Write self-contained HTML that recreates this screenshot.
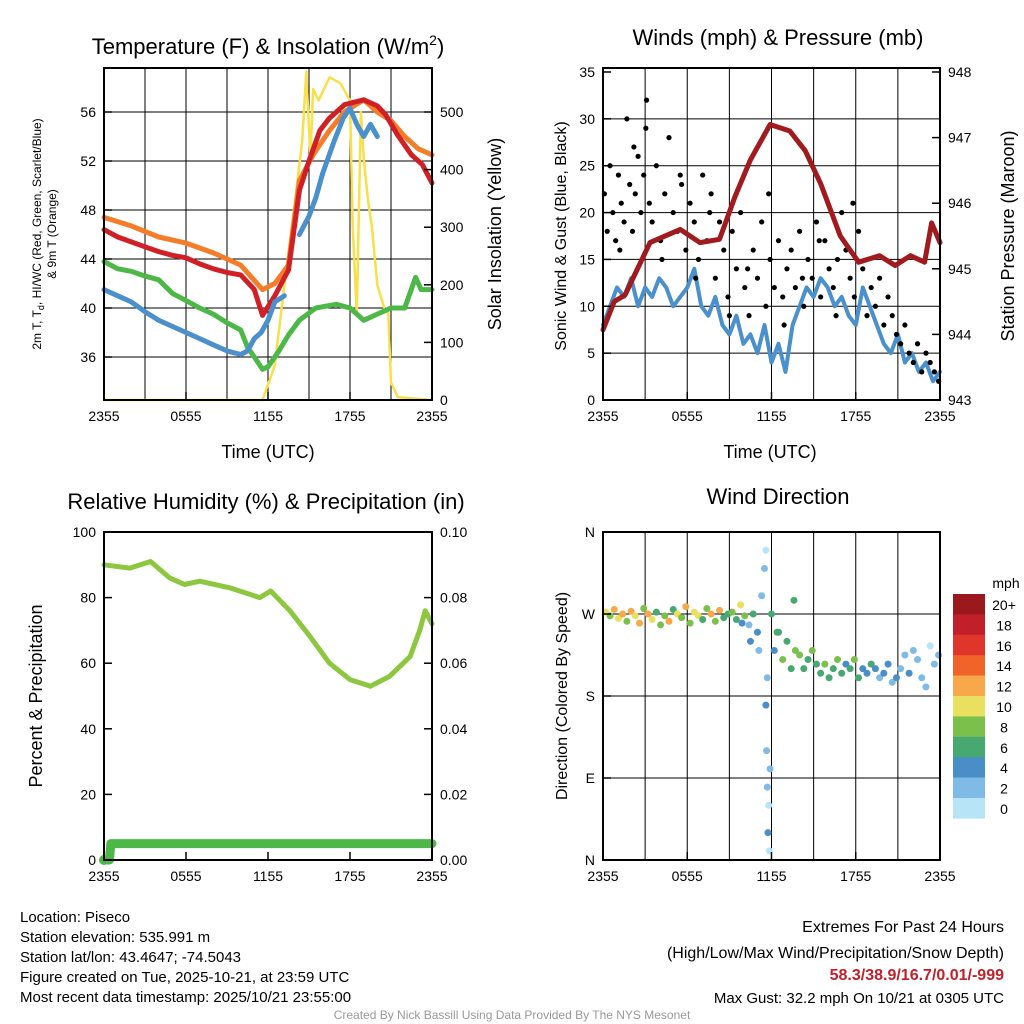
<!DOCTYPE html>
<html><head><meta charset="utf-8"><style>
html,body{margin:0;padding:0;background:#fff;}
svg{display:block;font-family:"Liberation Sans",sans-serif;}
</style></head><body>
<svg id="s" width="1024" height="1024" viewBox="0 0 1024 1024" xmlns="http://www.w3.org/2000/svg">
<rect width="1024" height="1024" fill="#fff"/>
<g id="g1"></g>
<g id="g2"></g>
<g id="g3"></g>
<g id="g4"></g>
<g font-size="15" fill="#000">
<text x="20" y="922">Location: Piseco</text>
<text x="20" y="942">Station elevation: 535.991 m</text>
<text x="20" y="962">Station lat/lon: 43.4647; -74.5043</text>
<text x="20" y="982">Figure created on Tue, 2025-10-21, at 23:59 UTC</text>
<text x="20" y="1002">Most recent data timestamp: 2025/10/21 23:55:00</text>
</g>
<g font-size="16" text-anchor="end">
<text x="1004" y="932">Extremes For Past 24 Hours</text>
<text x="1004" y="958">(High/Low/Max Wind/Precipitation/Snow Depth)</text>
<text x="1004" y="980" fill="#c0202a" font-weight="bold">58.3/38.9/16.7/0.01/-999</text>
<text x="1004" y="1003" font-size="15">Max Gust: 32.2 mph On 10/21 at 0305 UTC</text>
</g>
<text x="512" y="1019" text-anchor="middle" font-size="12" fill="#999">Created By Nick Bassill Using Data Provided By The NYS Mesonet</text>
</svg>
<script>
// ---------- data ----------
const xTickLabels = ["2355","0555","1155","1755","2355"];
const tRed = [0,1,2,3,4,5,6,7,8,9,10,11,11.6,12.5,13.5,14.3,15,15.8,16.5,17.6,19,20,20.6,21.5,22.5,23.3,24];
const vRed = [46.4,45.8,45.4,45,44.6,44.3,44.1,43.6,43.2,42.9,42.7,41.5,39.4,41,43.1,49.6,52,54.5,55.5,56.6,57,56.5,55.8,54.1,52.5,51.7,50.2];
const tOrange = [0,2,4,6,8,10,11.6,12.5,13.5,14.3,15.3,16.5,17.6,19,20,21,22,23,24];
const vOrange = [47.4,46.7,45.8,45.3,44.5,43.5,41.5,42,43.5,50.4,52.5,54.5,56,57,56,55.3,54,53,52.5];
const tGreen = [0,1,2,3,4,5,6,7,8,9,10,10.5,11,11.6,12,12.8,13.5,14.3,15.5,17,18,19,20,21,22,22.8,23.2,24];
const vGreen = [43.8,43.2,43,42.6,42.3,41.2,40.6,40,39.5,38.8,38.2,36.8,36,35,35.2,36.5,37.8,39,40,40.3,40,39,39.5,40,40,42.5,41.5,41.5];
const tBlueA = [0,1,2,3,4,5,6,7,8,9,10,10.5,11,11.5,12,12.5,13.2];
const vBlueA = [41.5,41,40.5,39.7,39,38.5,38,37.5,37,36.5,36.2,36.5,37.5,38,39,40.5,41];
const tBlueB = [14.3,15,15.5,16,16.8,17.5,18,18.5,19,19.5,20];
const vBlueB = [46,47.5,49,51,53.5,55.5,56.3,55,54,55,54];
const tSolar = [0,11.6,12.5,13.2,14,14.5,14.8,15.1,15.3,15.7,16.5,17.3,18,18.2,18.5,18.8,19,19.3,19.6,20,20.5,20.8,21,21.5,24];
const vSolar = [0,0,60,200,350,450,570,420,540,520,560,550,520,300,150,500,420,350,300,200,160,150,30,5,0];

const tPres = [0,0.8,1.57,3.35,5.5,6.9,8.3,9.4,10.5,11.9,13.3,14.4,15.5,16.9,18.2,19.7,20.8,21.9,22.9,23.4,24];
const vPres = [944.07,944.5,944.6,945.4,945.6,945.4,945.45,946.1,946.66,947.2,947.1,946.8,946.3,945.5,945.1,945.2,945.05,945.2,945.1,945.7,945.4];
const tWind = [0,0.5,1,1.5,2,2.5,3,3.5,4,4.5,5,5.5,6,6.5,7,7.5,8,8.5,9,9.5,10,10.5,11,11.5,12,12.5,13,13.5,14,14.5,15,15.5,16,16.5,17,17.5,18,18.5,19,19.5,20,20.5,21,21.5,22,22.5,23,23.5,24];
const vWind = [8,10,12,11,13,10,12,11,13,12,10,11,12,14,10,9,11,8,7,9,6,7,5,8,4,6,3,8,10,12,11,13,12,10,11,9,8,12,10,8,6,5,7,4,5,3,4,2,3];
const tGust = [0.1,0.3,0.5,0.7,0.9,1.1,1.3,1.5,1.7,1.9,2.1,2.3,2.5,2.7,2.9,3.1,3.3,3.5,3.8,4.1,4.4,4.7,5,5.3,5.6,5.9,6.2,6.5,6.8,7.1,7.4,7.7,8,8.3,8.6,8.9,9.2,9.5,9.8,10.1,10.4,10.7,11,11.3,11.6,11.9,12.2,12.5,12.8,13.1,13.4,13.7,14,14.3,14.6,14.9,15.2,15.5,15.8,16.1,16.4,16.7,17,17.3,17.6,17.9,18.2,18.5,18.8,19.1,19.4,19.7,20,20.3,20.6,20.9,21.2,21.5,21.8,22.1,22.4,22.7,23,23.3,23.6,23.9,1.2,2.2,3.05,4.2,5.5,6.6,7.6,9,10.3,11.8,12.9,14.2,15.4,16.6,17.8];
const vGust = [22,18,25,20,17,24,21,19,30,23,18,22,26,20,24,32,21,19,25,17,22,28,20,18,23,16,21,19,15,24,17,22,13,19,16,11,18,14,20,12,9,16,13,19,10,15,12,17,11,14,16,12,18,10,15,13,19,11,17,14,12,15,20,16,13,11,18,14,9,12,10,13,8,11,9,7,6,8,5,4,6,3,5,4,3,2,16,27,29,15,24,13,20,9,14,22,8,13,17,9,21];

const tRH = [0,1.9,3.4,4.8,5.9,7,9.2,11.4,12.2,13.6,15.1,16.5,18,19.5,20.9,22.4,23.1,23.5,24];
const vRH = [90,89,91,86,84,85,83,80,82,76,68,60,55,53,56,62,70,76,72];
const tPcp = [0,0.4,0.5,6,12,18,24];
const vPcp = [0,0,0.005,0.005,0.005,0.005,0.005];

const tDir = [0.2,0.5,0.8,1.1,1.4,1.7,2,2.3,2.6,2.9,3.2,3.5,3.8,4.1,4.4,4.7,5,5.3,5.6,5.9,6.2,6.5,6.8,7.1,7.4,7.7,8,8.3,8.6,8.9,9.2,9.5,9.8,10.1,10.4,10.7,11,11.3,11.5,11.6,11.65,11.7,11.75,11.8,11.85,11.9,11.7,11.6,12,12.2,12.5,12.8,13.1,13.4,13.7,14,14.3,14.6,14.9,15.2,15.5,15.8,16.1,16.4,16.7,17,17.3,17.6,17.9,18.2,18.5,18.8,19.1,19.4,19.7,20,20.3,20.6,20.9,21.2,21.5,21.8,22.1,22.4,22.7,23,23.3,23.6,23.9,10.5,11.1,9.9,12.4,13.6];
const vDir = [272,268,275,265,270,262,273,268,260,276,270,264,272,258,268,262,275,270,266,278,260,272,268,264,276,270,262,274,266,270,272,264,280,268,258,270,250,290,320,340,120,80,30,60,10,100,200,170,270,230,250,220,240,210,230,225,210,220,230,215,205,215,200,210,220,205,215,210,220,200,210,205,215,210,200,205,215,195,200,210,225,205,230,220,200,190,235,215,225,240,230,260,250,285];
const vSpd = [11,9,12,10,13,9,12,11,13,8,12,10,7,9,8,13,7,10,9,12,8,11,10,7,9,13,8,12,7,6,9,7,11,8,3,7,4,3,3,1,2,3,4,1,1,2,3,4,6,5,7,8,6,7,9,8,6,7,8,7,6,8,6,7,8,6,5,7,8,6,5,4,6,5,3,5,4,3,4,2,3,4,2,3,2,3,1,2,2,4,3,4,6,7];
const dirLabels = ["N","E","S","W","N"];
const cbLabels = ["20+","18","16","14","12","10","8","6","4","2","0"];
const cbColors = ["#9b181d","#c11f2a","#e0352b","#f06429","#f8a84a","#e8e05e","#7cc04c","#48a872","#4a8ec8","#7fbbe6","#b8e4f8"];

// ---------- helpers ----------
const NS="http://www.w3.org/2000/svg";
function mk(parent,tag,attrs,txt){const e=document.createElementNS(NS,tag);for(const k in attrs)e.setAttribute(k,attrs[k]);if(txt!==undefined)e.textContent=txt;parent.appendChild(e);return e;}
function lin(d0,d1,r0,r1){return v=>r0+(v-d0)/(d1-d0)*(r1-r0);}
function pathD(ts,vs,fx,fy){return ts.map((t,i)=>(i?"L":"M")+fx(t).toFixed(1)+","+fy(vs[i]).toFixed(1)).join("");}
function frame(g,x0,y0,x1,y1){
  const r=mk(g,"rect",{x:x0,y:y0,width:x1-x0,height:y1-y0,fill:"none",stroke:"#000","stroke-width":2});
  
  
}
function vgrid(g,x0,x1,y0,y1){for(let h=3;h<24;h+=3){const x=x0+h/24*(x1-x0);mk(g,"line",{x1:x,x2:x,y1:y0,y2:y1,stroke:"#000","stroke-width":1});}}
function xaxis(g,x0,x1,y1){
  const fx=lin(0,24,x0,x1);
  xTickLabels.forEach((l,i)=>{const x=fx(i*6);
    mk(g,"line",{x1:x,x2:x,y1:y1,y2:y1-8,stroke:"#000","stroke-width":1.5});
    const t=mk(g,"text",{x:x,y:y1+21,"text-anchor":"middle","font-size":14},l);
    
    
  });
}
function yticks(g,vals,fy,x,side,fmt){
  vals.forEach(v=>{const y=fy(v);
    mk(g,"line",{x1:x,x2:x+(side<0?8:-8),y1:y,y2:y,stroke:"#000","stroke-width":1.5});
    const t=mk(g,"text",{x:side<0?x-8:x+8,y:y+5,"text-anchor":side<0?"end":"start","font-size":14},fmt?fmt(v):v);
    
    
  });
}
function title(g,x,y,s,name){const t=mk(g,"text",{x:x,y:y,"text-anchor":"middle","font-size":22},s);return t;}
function vtitle(g,x,y,s,name,size){const t=mk(g,"text",{x:x,y:y,"text-anchor":"middle","font-size":size||18,transform:`rotate(-90 ${x} ${y})`},s);return t;}
function line(g,ts,vs,fx,fy,col,w,name){const p=mk(g,"path",{d:pathD(ts,vs,fx,fy),fill:"none",stroke:col,"stroke-width":w,"stroke-linejoin":"round","stroke-linecap":"round"});return p;}

// ---------- panel 1 ----------
(function(){
 const g=document.getElementById("g1");const X0=104,X1=432,Y0=68,Y1=400;
 const fx=lin(0,24,X0,X1), fy=lin(36,56,357,112), fs=lin(0,500,400,112);
 vgrid(g,X0,X1,Y0,Y1);
 [36,40,44,48,52,56].forEach(v=>mk(g,"line",{x1:X0,x2:X1,y1:fy(v),y2:fy(v),stroke:"#000","stroke-width":1}));
 line(g,tSolar,vSolar,fx,fs,"#f7e04a",2.5,"solar-insolation-line");
 line(g,tOrange,vOrange,fx,fy,"#f57d2a",5,"9m-temperature-line");
 line(g,tRed,vRed,fx,fy,"#d02026",5,"2m-temperature-line");
 line(g,tGreen,vGreen,fx,fy,"#4db848",5,"dewpoint-line");
 line(g,tBlueA,vBlueA,fx,fy,"#4a90cc",5,"heat-index-wind-chill-line");
 line(g,tBlueB,vBlueB,fx,fy,"#4a90cc",5,"heat-index-wind-chill-line-2");
 frame(g,X0,Y0,X1,Y1);
 yticks(g,[36,40,44,48,52,56],fy,X0,-1);
 yticks(g,[0,100,200,300,400,500],fs,X1,1);
 xaxis(g,X0,X1,Y1);
 const t=title(g,268,53,"","temperature-title");
 t.setAttribute('y','54');
 t.innerHTML='Temperature (F) &amp; Insolation (W/m<tspan dy="-9" font-size="14">2</tspan><tspan dy="9">)</tspan>';
 const tt=mk(g,"text",{x:268,y:458,"text-anchor":"middle","font-size":18},"Time (UTC)");
 
 const a=vtitle(g,41,234,"","left-axis-title",12);
 a.innerHTML='2m T, T<tspan font-size="9" dy="3">d</tspan><tspan dy="-3">, HI/WC (Red, Green, Scarlet/Blue)</tspan>';
 vtitle(g,56,234,"& 9m T (Orange)","left-axis-title-2",12);
 vtitle(g,501,234,"Solar Insolation (Yellow)","right-axis-title");
})();

// ---------- panel 2 ----------
(function(){
 const g=document.getElementById("g2");const X0=603,X1=940,Y0=68,Y1=400;
 const fx=lin(0,24,X0,X1), fy=lin(0,35,400,72), fp=lin(943,948,400,72);
 vgrid(g,X0,X1,Y0,Y1);
 [5,10,15,20,25,30].forEach(v=>mk(g,"line",{x1:X0,x2:X1,y1:fy(v),y2:fy(v),stroke:"#000","stroke-width":1}));
 line(g,tWind,vWind,fx,fy,"#4a90cc",4,"sonic-wind-line");
 tGust.forEach((t,i)=>{const c=mk(g,"circle",{cx:fx(t),cy:fy(vGust[i]),r:2.6,fill:"#000"});
   });
 line(g,tPres,vPres,fx,fp,"#a11a1e",5,"pressure-line");
 frame(g,X0,Y0,X1,Y1);
 yticks(g,[0,5,10,15,20,25,30,35],fy,X0,-1);
 yticks(g,[943,944,945,946,947,948],fp,X1,1);
 xaxis(g,X0,X1,Y1);
 title(g,778,45,"Winds (mph) & Pressure (mb)","wind-title");
 const tt=mk(g,"text",{x:770,y:458,"text-anchor":"middle","font-size":18},"Time (UTC)");
 
 vtitle(g,566,236,"Sonic Wind & Gust (Blue, Black)","left-axis-title",16);
 vtitle(g,1014,236,"Station Pressure (Maroon)","right-axis-title");
})();

// ---------- panel 3 ----------
(function(){
 const g=document.getElementById("g3");const X0=104,X1=432,Y0=532,Y1=860;
 const fx=lin(0,24,X0,X1), fy=lin(0,100,860,532), fq=lin(0,0.1,860,532);
 line(g,tRH,vRH,fx,fy,"#8dc63f",5,"relative-humidity-line");
 line(g,tPcp,vPcp,fx,fq,"#4db848",9,"precipitation-line");
 const c=mk(g,"circle",{cx:fx(0),cy:fq(0),r:5,fill:"#4db848"});
 
 frame(g,X0,Y0,X1,Y1);
 yticks(g,[0,20,40,60,80,100],fy,X0,-1);
 yticks(g,[0,0.02,0.04,0.06,0.08,0.1],fq,X1,1,v=>v.toFixed(2));
 xaxis(g,X0,X1,Y1);
 title(g,266,509,"Relative Humidity (%) & Precipitation (in)","humidity-title");
 vtitle(g,42,696,"Percent & Precipitation","left-axis-title");
})();

// ---------- panel 4 ----------
(function(){
 const g=document.getElementById("g4");const X0=603,X1=940,Y0=532,Y1=860;
 const fx=lin(0,24,X0,X1), fy=lin(0,360,860,532);
 vgrid(g,X0,X1,Y0,Y1);
 [90,180,270].forEach(v=>mk(g,"line",{x1:X0,x2:X1,y1:fy(v),y2:fy(v),stroke:"#000","stroke-width":1}));
 function col(s){let i=Math.min(10,Math.floor(s/2));return cbColors[10-i];}
 tDir.forEach((t,i)=>{const c=mk(g,"circle",{cx:fx(t),cy:fy(vDir[i]),r:3.5,fill:col(vSpd[i])});
   });
 frame(g,X0,Y0,X1,Y1);
 dirLabels.forEach((l,i)=>{const y=fy(i*90);
   mk(g,"line",{x1:X0,x2:X0+8,y1:y,y2:y,stroke:"#000","stroke-width":1.5});
   const t=mk(g,"text",{x:X0-8,y:y+5,"text-anchor":"end","font-size":14},l);
   });
 xaxis(g,X0,X1,Y1);
 title(g,778,504,"Wind Direction","direction-title");
 vtitle(g,567,696,"Direction (Colored By Speed)","left-axis-title",16);
 const cb=mk(g,"g",{});
 const bh=20.4;
 cbColors.forEach((c,i)=>{mk(cb,"rect",{x:953,y:594+i*bh,width:32,height:bh+0.3,fill:c});
   mk(cb,"text",{x:1004,y:594+i*bh+16,"text-anchor":"middle","font-size":14},cbLabels[i]);});
 mk(cb,"text",{x:1006,y:588,"text-anchor":"middle","font-size":14},"mph");
})();
</script>
</body></html>
